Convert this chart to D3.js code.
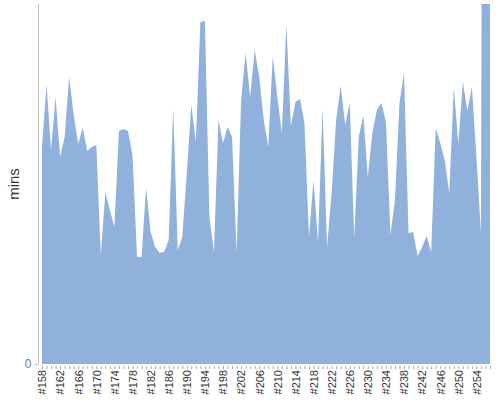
<!DOCTYPE html>
<html>
<head>
<meta charset="utf-8">
<script src="https://cdn.jsdelivr.net/npm/d3@7"></script>
<style>
  html, body { margin: 0; padding: 0; background: #fff; }
  svg { display: block; font-family: "Liberation Sans", Arial, sans-serif; }
</style>
</head>
<body>
<script>
// ---- data ----
const firstId = 158;
const lastId = 257;
const categories = d3.range(firstId, lastId + 1).map(d => "#" + d);

// minutes per item (last two run off the top of the chart)
const minutes = [
  72.3, 93, 71.3, 89, 69, 75.7, 95.7, 83, 73.3, 78.7,
  71, 72.3, 73, 36.3, 57.3, 51.3, 45.7, 77.7, 78.3, 77.7,
  69.7, 35.7, 35.7, 58.7, 44, 39, 37, 37.3, 41.3, 85.3,
  38, 42.3, 63.7, 86.3, 74, 114, 114.3, 48.7, 37.3, 81.3,
  73.7, 79, 75.7, 37, 88, 103.7, 89, 104.7, 95.7, 81.3,
  72.3, 102.7, 89, 77, 113, 79.3, 87.3, 88.3, 80.3, 42.3,
  61.3, 40.7, 85.3, 39, 57, 81.3, 92.7, 79.7, 87, 42,
  75.7, 83, 62.3, 77, 84.7, 87, 80.7, 43, 54.7, 87,
  97, 43.7, 44, 36, 39, 42.7, 37.3, 78.7, 73.7, 68,
  57, 92.3, 73.3, 94, 84.3, 92.3, 69, 43.7, 600, 600
];

const tickLabels = ["#158", "#162", "#166", "#170", "#174", "#178", "#182", "#186",
  "#190", "#194", "#198", "#202", "#206", "#210", "#214", "#218", "#222", "#226",
  "#230", "#234", "#238", "#242", "#246", "#250", "#254"];
const yTicks = [0];
const yMax = 120;

// ---- chart ----
const W = 500, H = 400;
const plot = { left: 42, right: 490, top: 4, bottom: 364 };

const svg = d3.select("body").append("svg")
  .attr("width", W).attr("height", H);

const x = d3.scalePoint().domain(categories).range([plot.left, plot.right]).padding(0);
const y = d3.scaleLinear().domain([0, yMax]).range([plot.bottom, plot.top]);

svg.append("defs").append("clipPath").attr("id", "plotclip")
  .append("rect")
  .attr("x", plot.left).attr("y", plot.top)
  .attr("width", plot.right - plot.left + 1)
  .attr("height", plot.bottom - plot.top);

const area = d3.area()
  .x((d, i) => x(categories[i]))
  .y0(y(0))
  .y1(d => y(d))
  .curve(d3.curveLinear);

svg.append("path")
  .datum(minutes)
  .attr("clip-path", "url(#plotclip)")
  .attr("fill", "#8fb1db")
  .attr("d", area);

// y axis
const yAxisG = svg.append("g").attr("transform", "translate(38.5,0)")
  .call(d3.axisLeft(y).tickValues(yTicks).tickSize(4).tickPadding(3));
yAxisG.select(".domain").attr("stroke", "#c3c3c3").attr("d", `M0,${plot.top}V${plot.bottom}`);
yAxisG.selectAll(".tick line").attr("stroke", "#c3c3c3");
yAxisG.selectAll(".tick text").attr("fill", "#777").style("font-size", "12px")
  .style("font-family", "'Liberation Sans', Arial, sans-serif");

// x axis: a small tick for every item, labels every 4th
const xAxisG = svg.append("g").attr("transform", `translate(0,${plot.bottom + 2})`)
  .call(d3.axisBottom(x).tickSize(3).tickFormat(d => tickLabels.includes(d) ? d : ""));
xAxisG.select(".domain").remove();
xAxisG.selectAll(".tick line").attr("stroke", "#aaa");
xAxisG.selectAll(".tick text")
  .attr("fill", "#333")
  .style("font-size", "11px")
  .style("font-family", "'Liberation Sans', Arial, sans-serif")
  .attr("text-anchor", "end")
  .attr("dy", "0.35em")
  .attr("transform", "translate(0,4) rotate(-90)")
  .attr("x", 0).attr("y", 0);

// y label
svg.append("text")
  .attr("transform", `translate(18.5,${(plot.top + plot.bottom) / 2 + 0}) rotate(-90)`)
  .attr("text-anchor", "middle")
  .attr("fill", "#333")
  .style("font-size", "15px")
  .text("mins");
</script>
</body>
</html>
